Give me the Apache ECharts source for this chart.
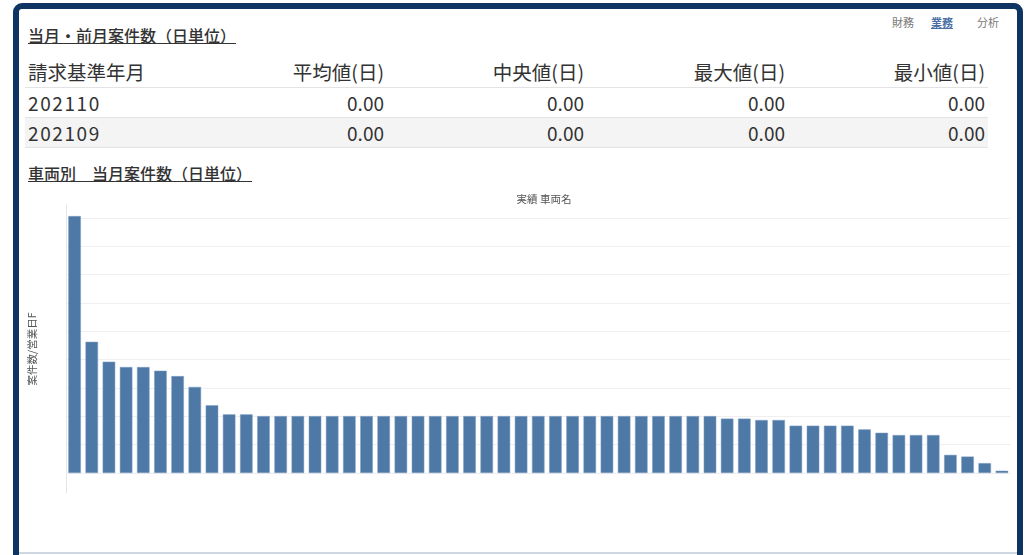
<!DOCTYPE html>
<html>
<head>
<meta charset="utf-8">
<title>当月・前月案件数</title>
<script src="https://cdn.jsdelivr.net/npm/echarts@6/dist/echarts.min.js"></script>
<style>
  html, body { margin: 0; padding: 0; width: 1026px; height: 555px; overflow: hidden; background: #fff;
    font-family: "Noto Sans CJK JP", "Noto Sans", sans-serif; color: #333; }
  #frame { position: absolute; left: 13px; top: 3px; width: 998px; height: 620px;
    border: 6px solid #0d3462; border-radius: 9px 9px 0 0; background: #fff; }
  #bottomline { position: absolute; left: 19px; top: 552px; width: 998px; height: 2px; background: #cfd8e2; }
  .nav { position: absolute; top: 15px; font-size: 11px; line-height: 14px; color: #7a7a7a; }
  .nav.on { color: #4a6fa5; font-weight: bold; text-decoration: underline; }
  .sec { position: absolute; left: 28px; font-size: 16px; line-height: 18px; font-weight: 500;
    text-decoration: underline; color: #333; white-space: nowrap; }
  #tbl { position: absolute; left: 25px; top: 58px; border-collapse: collapse; table-layout: fixed; }
  #tbl td, #tbl th { padding: 0 3px; font-weight: normal; font-size: 19px; color: #333; white-space: nowrap; }
  #tbl th { height: 27px; padding-bottom: 2px; border-bottom: 1px solid #e3e3e3; font-size: 19.5px; line-height: 24px; }
  #tbl td { height: 29px; border-bottom: 1px solid #e3e3e3; }
  #tbl td.month { letter-spacing: 1.6px; }
  #tbl tr.alt td { background: #f4f4f4; }
  #tbl .l { text-align: left; }
  #tbl .r { text-align: right; }
  #chart { position: absolute; left: 0; top: 0; width: 1026px; height: 555px; }
</style>
</head>
<body>
<div id="frame"></div>
<div id="bottomline"></div>

<div class="nav" style="left:892px">財務</div>
<div class="nav on" style="left:931px">業務</div>
<div class="nav" style="left:977px">分析</div>

<div class="sec" style="top:26px">当月・前月案件数（日単位）</div>
<table id="tbl"></table>
<div class="sec" style="top:164px">車両別　当月案件数（日単位）</div>

<div id="chart"></div>

<script>
// Summary table: billing month rows and their daily statistics
const tableHeaders = ['請求基準年月', '平均値(日)', '中央値(日)', '最大値(日)', '最小値(日)'];
const billingMonths = ['202110', '202109'];
const avgValues = [0.00, 0.00];
const medianValues = [0.00, 0.00];
const maxValues = [0.00, 0.00];
const minValues = [0.00, 0.00];

// Per-vehicle cases per business day, sorted descending
const vehicleNames = [
  '車両01', '車両02', '車両03', '車両04', '車両05', '車両06', '車両07', '車両08', '車両09', '車両10',
  '車両11', '車両12', '車両13', '車両14', '車両15', '車両16', '車両17', '車両18', '車両19', '車両20',
  '車両21', '車両22', '車両23', '車両24', '車両25', '車両26', '車両27', '車両28', '車両29', '車両30',
  '車両31', '車両32', '車両33', '車両34', '車両35', '車両36', '車両37', '車両38', '車両39', '車両40',
  '車両41', '車両42', '車両43', '車両44', '車両45', '車両46', '車両47', '車両48', '車両49', '車両50',
  '車両51', '車両52', '車両53', '車両54', '車両55'
];
const casesPerDay = [
  9.07, 4.63, 3.93, 3.74, 3.74, 3.61, 3.42, 3.04, 2.39, 2.07,
  2.07, 2.01, 2.01, 2.01, 2.01, 2.01, 2.01, 2.01, 2.01, 2.01,
  2.01, 2.01, 2.01, 2.01, 2.01, 2.01, 2.01, 2.01, 2.01, 2.01,
  2.01, 2.01, 2.01, 2.01, 2.01, 2.01, 2.01, 2.01, 1.92, 1.92,
  1.87, 1.87, 1.67, 1.67, 1.67, 1.67, 1.54, 1.42, 1.34, 1.34,
  1.34, 0.64, 0.58, 0.35, 0.08
];

// Build the summary table
const colWidths = [162, 200, 200, 201, 200];
const tbl = document.getElementById('tbl');
const cg = document.createElement('colgroup');
colWidths.forEach(w => { const c = document.createElement('col'); c.style.width = w + 'px'; cg.appendChild(c); });
tbl.appendChild(cg);
const hr = document.createElement('tr');
tableHeaders.forEach((h, i) => {
  const th = document.createElement('th');
  th.className = i === 0 ? 'l' : 'r';
  th.textContent = h;
  hr.appendChild(th);
});
tbl.appendChild(hr);
billingMonths.forEach((m, r) => {
  const tr = document.createElement('tr');
  if (r % 2 === 1) tr.className = 'alt';
  [m, avgValues[r].toFixed(2), medianValues[r].toFixed(2), maxValues[r].toFixed(2), minValues[r].toFixed(2)]
    .forEach((v, i) => {
      const td = document.createElement('td');
      td.className = i === 0 ? 'l month' : 'r';
      td.textContent = v;
      tr.appendChild(td);
    });
  tbl.appendChild(tr);
});

// Bar chart: grid 0 holds the bars and gridlines, grid 1 carries the
// taller vertical axis line and its name
const FONT = '"Noto Sans CJK JP", "Noto Sans", sans-serif';
const chart = echarts.init(document.getElementById('chart'), null, { renderer: 'canvas' });
chart.setOption({
  animation: false,
  backgroundColor: 'transparent',
  title: {
    text: '実績 車両名',
    left: 539,
    top: 189,
    textAlign: 'center',
    textStyle: { fontFamily: FONT, fontSize: 10.5, fontWeight: 'normal', color: '#555' }
  },
  grid: [
    { left: 66, right: 15.5, top: 205, bottom: 82, containLabel: false },
    { left: 66, right: 15.5, top: 205, bottom: 62, containLabel: false }
  ],
  xAxis: [{
    type: 'category',
    gridIndex: 0,
    data: vehicleNames,
    axisLine: { show: false },
    axisTick: { show: false },
    axisLabel: { show: false },
    splitLine: { show: false }
  }, {
    type: 'category',
    gridIndex: 1,
    data: [],
    show: false
  }],
  yAxis: [{
    type: 'value',
    gridIndex: 0,
    min: 0,
    max: 9.46,
    interval: 1,
    axisLine: { show: false },
    axisTick: { show: false },
    axisLabel: { show: false },
    splitLine: { show: true, showMaxLine: false, lineStyle: { color: '#efefef', width: 1 } }
  }, {
    type: 'value',
    gridIndex: 1,
    min: 0,
    max: 1,
    name: '案件数/営業日F',
    nameLocation: 'middle',
    nameGap: 29,
    nameTextStyle: { fontFamily: FONT, fontSize: 10.5, color: '#555' },
    axisLine: { show: true, lineStyle: { color: '#e6e6e6', width: 1 } },
    axisTick: { show: false },
    axisLabel: { show: false },
    splitLine: { show: false }
  }],
  series: [{
    type: 'bar',
    xAxisIndex: 0,
    yAxisIndex: 0,
    data: casesPerDay,
    barCategoryGap: '27%',
    itemStyle: { color: '#4e79a7', borderColor: '#7f9dc2', borderWidth: 0.5 }
  }]
});
</script>
</body>
</html>
